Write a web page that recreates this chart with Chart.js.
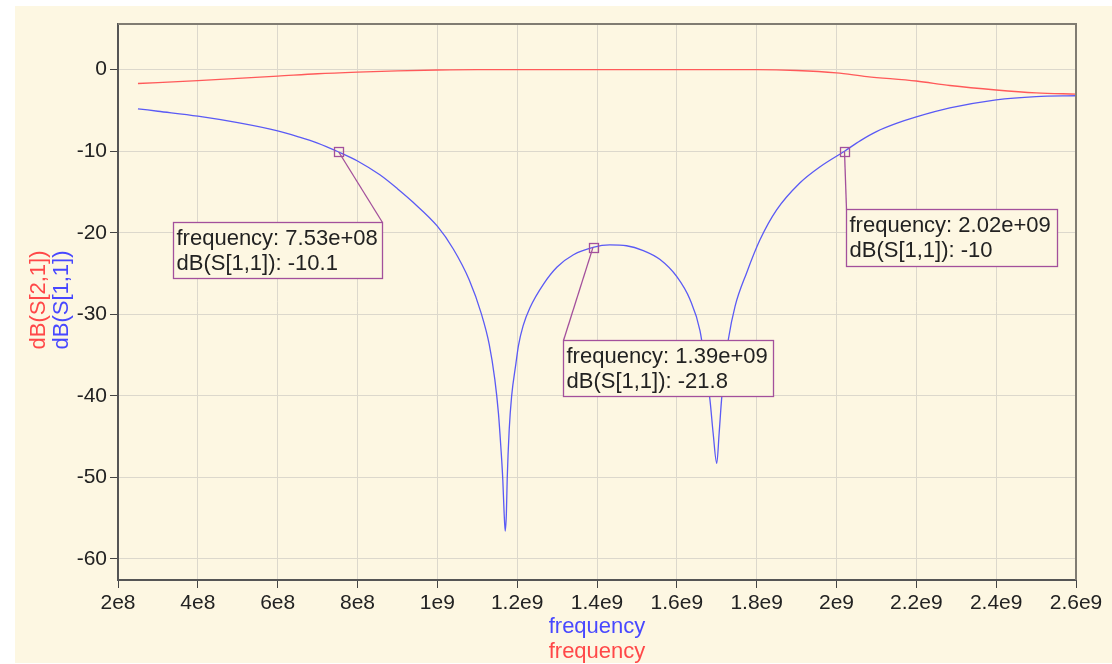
<!DOCTYPE html>
<html>
<head>
<meta charset="utf-8">
<title>S-parameters</title>
<script src="https://cdn.jsdelivr.net/npm/chart.js@4.4.1/dist/chart.umd.min.js"></script>
<style>
  body { margin: 0; background: #fff; }
  #wrap { width: 1112px; height: 664px; }
</style>
</head>
<body>
<div id="wrap"><canvas id="chart" width="1112" height="664"></canvas></div>
<script>
// S11 (blue)
const s11Freq = [0.25e9, 0.30e9, 0.40e9, 0.50e9, 0.60e9, 0.65e9, 0.70e9, 0.753e9, 0.80e9, 0.856e9,
  0.90e9, 0.94e9, 1.00e9, 1.04e9, 1.08e9, 1.11e9, 1.13e9, 1.144e9, 1.153e9, 1.159e9,
  1.164e9, 1.167e9, 1.170e9, 1.173e9, 1.175e9, 1.180e9, 1.186e9, 1.197e9, 1.203e9, 1.215e9,
  1.232e9, 1.266e9, 1.30e9, 1.341e9, 1.39e9, 1.432e9, 1.474e9, 1.516e9, 1.558e9, 1.60e9,
  1.633e9, 1.658e9, 1.672e9, 1.683e9, 1.691e9, 1.700e9, 1.706e9, 1.712e9, 1.72e9, 1.729e9,
  1.746e9, 1.775e9, 1.808e9, 1.85e9, 1.908e9, 1.959e9, 2.02e9, 2.06e9, 2.10e9, 2.15e9,
  2.20e9, 2.284e9, 2.40e9, 2.50e9, 2.60e9];
const s11Db = [-4.8, -5.1, -5.7, -6.5, -7.5, -8.2, -9.0, -10.1, -11.2, -12.9,
  -14.6, -16.3, -19.2, -22.0, -25.8, -29.9, -33.7, -38.0, -42.1, -46.2,
  -50.3, -54.0, -56.6, -54.4, -50.3, -44.2, -40.1, -36.0, -33.9, -31.4,
  -29.2, -26.3, -24.2, -22.7, -21.8, -21.5, -21.6, -22.2, -23.3, -25.4,
  -28.2, -32.0, -36.5, -40.5, -44.6, -48.3, -44.6, -40.5, -36.5, -33.1,
  -29.0, -24.9, -20.9, -17.2, -13.9, -11.9, -10.0, -8.7, -7.6, -6.6,
  -5.8, -4.7, -3.7, -3.3, -3.2];

// S21 (red)
const s21Freq = [0.25e9, 0.40e9, 0.60e9, 0.70e9, 0.80e9, 0.90e9, 1.00e9, 1.10e9, 1.80e9, 1.90e9,
  2.00e9, 2.076e9, 2.20e9, 2.284e9, 2.40e9, 2.50e9, 2.60e9];
const s21Db = [-1.7, -1.35, -0.8, -0.5, -0.3, -0.15, -0.05, 0, 0, -0.1,
  -0.4, -0.85, -1.4, -1.95, -2.5, -2.85, -3.0];

// 마커 (frequency, dB)
const markerFreq = [7.53e8, 1.39e9, 2.02e9];
const markerDb = [-10.1, -21.8, -10];

// tick labels
const xTickLabels = ['2e8', '4e8', '6e8', '8e8', '1e9', '1.2e9', '1.4e9', '1.6e9', '1.8e9', '2e9', '2.2e9', '2.4e9', '2.6e9'];
const yTickLabels = ['0', '-10', '-20', '-30', '-40', '-50', '-60'];

const BG = '#fdf7e2';
const FONT = "'Liberation Sans', Arial, sans-serif";
const MARK = '#a3509c';

// box placement relative to marker pixel (left, top, width, height, corner the leader goes to)
const boxLayout = [
  { dx: -166, dy: 70, w: 209, h: 56, corner: 'tr' },
  { dx: -30, dy: 93, w: 210, h: 56, corner: 'tl' },
  { dx: 2, dy: 58, w: 211, h: 57, corner: 'tl' }
];

function fmtFreq(f) {
  // 7.53e+08 style
  const s = f.toExponential(2);
  const parts = s.split('e');
  let exp = parseInt(parts[1], 10);
  const sign = exp < 0 ? '-' : '+';
  exp = Math.abs(exp);
  return parts[0] + 'e' + sign + (exp < 10 ? '0' + exp : exp);
}

const bgPlugin = {
  id: 'bg',
  beforeDraw(chart) {
    const ctx = chart.ctx;
    ctx.save();
    ctx.fillStyle = '#fff';
    ctx.fillRect(0, 0, chart.width, chart.height);
    ctx.fillStyle = BG;
    ctx.fillRect(15, 6, chart.width - 15, chart.height - 7);
    ctx.restore();
  }
};

const decoPlugin = {
  id: 'deco',
  afterDraw(chart) {
    const ctx = chart.ctx;
    const a = chart.chartArea;
    const xs = chart.scales.x;
    const ys = chart.scales.y;
    ctx.save();

    // frame top / right
    ctx.strokeStyle = '#807c72';
    ctx.lineWidth = 2;
    ctx.beginPath();
    ctx.moveTo(a.left, a.top);
    ctx.lineTo(a.right, a.top);
    ctx.lineTo(a.right, a.bottom);
    ctx.stroke();

    // markers + boxes
    ctx.font = '22px ' + FONT;
    ctx.textBaseline = 'middle';
    ctx.textAlign = 'left';
    for (let i = 0; i < markerFreq.length; i++) {
      const px = xs.getPixelForValue(markerFreq[i]);
      const py = ys.getPixelForValue(markerDb[i]);
      const b = boxLayout[i];
      const bx = Math.round(px + b.dx) + 0.5;
      const by = Math.round(py + b.dy) + 0.5;
      const cx = b.corner === 'tr' ? bx + b.w : bx;

      ctx.strokeStyle = MARK;
      ctx.lineWidth = 1.3;
      ctx.beginPath();
      ctx.moveTo(px, py);
      ctx.lineTo(cx, by);
      ctx.stroke();

      ctx.strokeRect(Math.round(px - 4.5) + 0.5, Math.round(py - 4.5) + 0.5, 9, 9);

      ctx.fillStyle = BG;
      ctx.fillRect(bx, by, b.w, b.h);
      ctx.strokeRect(bx, by, b.w, b.h);

      ctx.fillStyle = '#222';
      ctx.fillText('frequency: ' + fmtFreq(markerFreq[i]), bx + 3, by + 16);
      ctx.fillText('dB(S[1,1]): ' + markerDb[i], bx + 3, by + 41);
    }

    // axis titles
    ctx.font = '22px ' + FONT;
    ctx.textAlign = 'center';
    ctx.textBaseline = 'middle';
    const midX = (a.left + a.right) / 2;
    ctx.fillStyle = '#4848ff';
    ctx.fillText('frequency', midX, 627);
    ctx.fillStyle = '#ff4848';
    ctx.fillText('frequency', midX, 652);

    ctx.save();
    ctx.translate(39, 300);
    ctx.rotate(-Math.PI / 2);
    ctx.fillStyle = '#ff4848';
    ctx.fillText('dB(S[2,1])', 0, 0);
    ctx.restore();
    ctx.save();
    ctx.translate(62, 300);
    ctx.rotate(-Math.PI / 2);
    ctx.fillStyle = '#4848ff';
    ctx.fillText('dB(S[1,1])', 0, 0);
    ctx.restore();

    ctx.restore();
  }
};

const ctx = document.getElementById('chart').getContext('2d');
new Chart(ctx, {
  type: 'line',
  data: {
    datasets: [
      {
        label: 'dB(S[2,1])',
        data: s21Freq.map((f, i) => ({ x: f, y: s21Db[i] })),
        borderColor: '#ff5a5a',
        borderWidth: 1.4,
        pointRadius: 0,
        cubicInterpolationMode: 'monotone',
        fill: false
      },
      {
        label: 'dB(S[1,1])',
        data: s11Freq.map((f, i) => ({ x: f, y: s11Db[i] })),
        borderColor: '#5a5af5',
        borderWidth: 1.3,
        pointRadius: 0,
        cubicInterpolationMode: 'monotone',
        fill: false
      }
    ]
  },
  options: {
    responsive: false,
    animation: false,
    layout: { padding: { left: 0, top: 24, right: 36, bottom: 0 } },
    plugins: {
      legend: { display: false },
      tooltip: { enabled: false }
    },
    scales: {
      x: {
        type: 'linear',
        min: 2e8,
        max: 2.6e9,
        afterFit: s => { s.height = 84; },
        afterBuildTicks: s => {
          s.ticks = xTickLabels.map((l, i) => ({ value: 2e8 + i * 2e8 }));
        },
        ticks: {
          font: { family: FONT, size: 21 },
          color: '#222',
          padding: 3,
          maxRotation: 0,
          callback: (v, i) => xTickLabels[i]
        },
        grid: { color: '#dcd8cc', lineWidth: 1, tickColor: '#444', tickLength: 8 },
        border: { color: '#555', width: 2 }
      },
      y: {
        type: 'linear',
        min: -62.6,
        max: 5.6,
        afterFit: s => { s.width = 118; },
        afterBuildTicks: s => {
          s.ticks = yTickLabels.map(l => ({ value: Number(l) }));
        },
        ticks: {
          font: { family: FONT, size: 21 },
          color: '#222',
          padding: 3,
          callback: (v, i) => yTickLabels[i]
        },
        grid: { color: '#dcd8cc', lineWidth: 1, tickColor: '#444', tickLength: 8 },
        border: { color: '#555', width: 2 }
      }
    }
  },
  plugins: [bgPlugin, decoPlugin]
});
</script>
</body>
</html>
